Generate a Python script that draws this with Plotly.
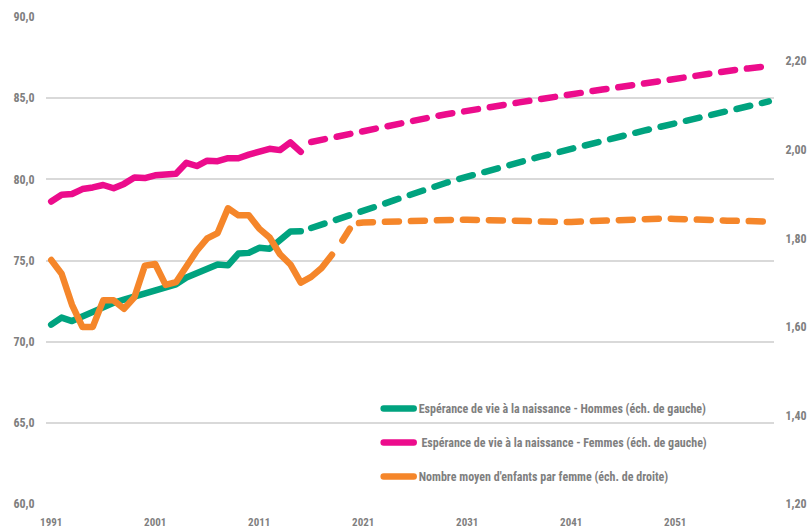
import plotly.graph_objects as go

# ---------------- data ----------------
obs_years = list(range(1991, 2016))          # observed life expectancy
proj_years = list(range(2016, 2061))         # projected life expectancy
fert_obs_years = list(range(1991, 2019))     # observed fertility
fert_proj_years = list(range(2019, 2061))    # projected fertility

men_obs = [71.05, 71.48, 71.27, 71.57, 71.88, 72.14, 72.39, 72.59, 72.76, 72.96,
           73.16, 73.37, 73.53, 73.95, 74.20, 74.48, 74.75, 74.70, 75.43, 75.47,
           75.78, 75.72, 76.25, 76.78, 76.80]
women_obs = [78.63, 79.05, 79.10, 79.40, 79.50, 79.65, 79.45, 79.72, 80.12, 80.08,
             80.25, 80.33, 80.35, 81.02, 80.82, 81.15, 81.12, 81.30, 81.30, 81.52,
             81.65, 81.88, 81.80, 82.27, 81.69]
men_proj = [77.00, 77.20, 77.40, 77.60, 77.82, 78.04, 78.26, 78.49, 78.72, 78.95,
            79.17, 79.39, 79.60, 79.79, 79.98, 80.17, 80.35, 80.52, 80.69, 80.86,
            81.04, 81.22, 81.40, 81.55, 81.70, 81.85, 82.00, 82.17, 82.34, 82.50,
            82.67, 82.84, 83.00, 83.16, 83.32, 83.47, 83.62, 83.78, 83.93, 84.08,
            84.22, 84.36, 84.50, 84.65, 84.80]
women_proj = [82.30, 82.44, 82.57, 82.70, 82.83, 82.95, 83.07, 83.21, 83.35, 83.48,
              83.62, 83.76, 83.89, 84.01, 84.13, 84.24, 84.35, 84.45, 84.54, 84.63,
              84.74, 84.85, 84.96, 85.05, 85.14, 85.24, 85.33, 85.43, 85.53, 85.62,
              85.72, 85.82, 85.92, 86.02, 86.13, 86.24, 86.34, 86.44, 86.53, 86.62,
              86.69, 86.76, 86.83, 86.91, 86.98]
fert_obs = [1.751, 1.720, 1.650, 1.600, 1.600, 1.660, 1.660, 1.641, 1.667, 1.738,
            1.742, 1.695, 1.701, 1.738, 1.772, 1.800, 1.812, 1.868, 1.852, 1.852,
            1.822, 1.802, 1.764, 1.741, 1.700, 1.713, 1.733, 1.763]
fert_proj = [1.795, 1.833, 1.836, 1.837, 1.838, 1.838, 1.839, 1.840, 1.840, 1.841,
             1.841, 1.842, 1.842, 1.842, 1.842, 1.842, 1.841, 1.840, 1.839, 1.838,
             1.837, 1.837, 1.837, 1.838, 1.839, 1.841, 1.842, 1.843, 1.844, 1.845,
             1.845, 1.845, 1.844, 1.844, 1.843, 1.842, 1.841, 1.840, 1.840, 1.839,
             1.838, 1.838]

x_tick_vals = [1991, 2001, 2011, 2021, 2031, 2041, 2051]
left_ticks = [60, 65, 70, 75, 80, 85, 90]
right_ticks = [1.2, 1.4, 1.6, 1.8, 2.0, 2.2]

name_men = "Espérance de vie à la naissance - Hommes (éch. de gauche)"
name_women = "\u00a0Espérance de vie à la naissance - Femmes (éch. de gauche)"
name_fert = "Nombre moyen d'enfants par femme (éch. de droite)"

GREEN = "#00A37F"
PINK = "#EC0C8C"
ORANGE = "#F5862A"
TXT = "#7F7F7F"
FONT = "Roboto, sans-serif"
LW = 6.5
DASH = "14px,12px"

fig = go.Figure()
fig.add_trace(go.Scatter(x=obs_years, y=men_obs, mode="lines", name=name_men,
                         legendgroup="m", line=dict(color=GREEN, width=LW)))
fig.add_trace(go.Scatter(x=proj_years, y=men_proj, mode="lines", name=name_men,
                         legendgroup="m", showlegend=False,
                         line=dict(color=GREEN, width=LW, dash=DASH)))
fig.add_trace(go.Scatter(x=obs_years, y=women_obs, mode="lines", name=name_women,
                         legendgroup="w", line=dict(color=PINK, width=LW)))
fig.add_trace(go.Scatter(x=proj_years, y=women_proj, mode="lines", name=name_women,
                         legendgroup="w", showlegend=False,
                         line=dict(color=PINK, width=LW, dash=DASH)))
fig.add_trace(go.Scatter(x=fert_obs_years, y=fert_obs, mode="lines", name=name_fert,
                         legendgroup="f", yaxis="y2",
                         line=dict(color=ORANGE, width=LW)))
fig.add_trace(go.Scatter(x=fert_proj_years, y=fert_proj, mode="lines", name=name_fert,
                         legendgroup="f", yaxis="y2", showlegend=False,
                         line=dict(color=ORANGE, width=LW, dash=DASH)))

fig.update_layout(
    width=807, height=528,
    margin=dict(l=46, r=33, t=17, b=24),
    paper_bgcolor="white", plot_bgcolor="white",
    separators=", ",
    font=dict(family=FONT, size=12, color=TXT, weight="bold"),
    showlegend=True,
    legend=dict(x=0.457, y=0.226, xanchor="left", yanchor="top",
                bgcolor="rgba(0,0,0,0)", tracegroupgap=15,
                font=dict(family=FONT, size=12, color=TXT, weight="bold"),
                itemwidth=30),
    xaxis=dict(range=[1990.5, 2060.5], tickmode="array", tickvals=x_tick_vals,
               ticktext=[str(v) for v in x_tick_vals],
               showgrid=False, zeroline=False, showline=False,
               ticks="outside", ticklen=8, tickcolor="rgba(0,0,0,0)",
               automargin=False, tickfont=dict(size=11)),
    yaxis=dict(range=[60, 90], tickmode="array", tickvals=left_ticks,
               tickformat=".1f", showgrid=True, gridcolor="#D9D9D9", gridwidth=1.5,
               zeroline=False, showline=False,
               ticks="outside", ticklen=8, tickcolor="rgba(0,0,0,0)",
               automargin=False),
    yaxis2=dict(range=[1.2, 2.3], overlaying="y", side="right", tickmode="array",
                tickvals=right_ticks, tickformat=".2f", showgrid=False,
                zeroline=False, showline=False,
                ticks="outside", ticklen=8, tickcolor="rgba(0,0,0,0)",
                automargin=False),
    shapes=[dict(type="rect", xref="paper", yref="paper",
                 x0=(322 - 46) / 728, x1=(765 - 46) / 728,
                 y0=(504 - 490) / 487, y1=(504 - 395) / 487,
                 fillcolor="white", line=dict(width=0), layer="between")],
)

post = """
(function(){
  document.body.style.margin = '0';
  var st = document.createElement('style');
  st.textContent =
    '.js-plotly-plot text { font-stretch: 75% !important; }' +
    '.js-plotly-plot .scatterlayer path.js-line, .js-plotly-plot .legendlines path' +
    ' { stroke-linecap: round !important; stroke-linejoin: round !important; }';
  document.head.appendChild(st);
})();
"""
fig.write_html("out.html", post_script=post, config={"displayModeBar": False})
